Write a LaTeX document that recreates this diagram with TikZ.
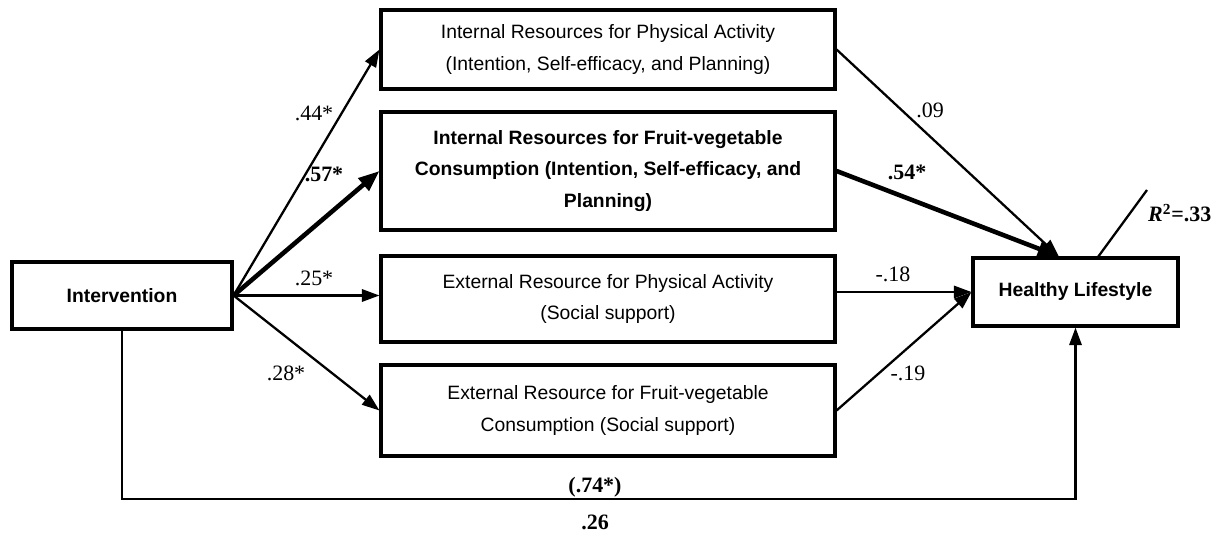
\documentclass[tikz,border=0pt]{standalone}
\usepackage{fontspec}
\setmainfont{Liberation Serif}
\setsansfont{Liberation Sans}
\usetikzlibrary{arrows.meta,calc}

\begin{document}
\begin{tikzpicture}[x=0.02cm, y=-0.02cm, >={Triangle[length=10pt,width=7pt]},
  box/.style={draw, line width=1.8pt, align=center, inner sep=0pt,
    font=\sffamily\fontsize{11pt}{18pt}\selectfont},
  boldbox/.style={box, font=\sffamily\bfseries\fontsize{11pt}{18pt}\selectfont},
  link/.style={->, line width=1.3pt},
  strong/.style={-{Triangle[length=12pt,width=9pt]}, line width=2.6pt},
  coef/.style={font=\fontsize{12.5pt}{14pt}\selectfont},
  boldcoef/.style={font=\bfseries\fontsize{12.5pt}{14pt}\selectfont}]
  \useasboundingbox (0,0) rectangle (1219,533);

  % Boxes
  \node[boldbox, minimum width=4.4cm, minimum height=1.34cm] (int) at (122,295.5) {Intervention};
  \node[box, minimum width=9.08cm, minimum height=1.58cm] (irpa) at (608,49.5)
    {Internal Resources for Physical Activity\\(Intention, Self-efficacy, and Planning)};
  \node[boldbox, minimum width=9.08cm, minimum height=2.36cm] (irfv) at (608,171)
    {Internal Resources for Fruit-vegetable\\Consumption (Intention, Self-efficacy, and\\Planning)};
  \node[box, minimum width=9.08cm, minimum height=1.72cm] (erpa) at (608,299)
    {External Resource for Physical Activity\\(Social support)};
  \node[box, minimum width=9.08cm, minimum height=1.82cm] (erfv) at (608,410.5)
    {External Resource for Fruit-vegetable\\Consumption (Social support)};
  \node[boldbox, minimum width=4.1cm, minimum height=1.36cm] (hl) at (1075.5,292) {Healthy Lifestyle};

  % Helper points
  \coordinate (hltop) at ($(hl.north west)!0.42!(hl.north east)$);
  \coordinate (rfoot) at ($(hl.north west)!0.61!(hl.north east)$);
  \coordinate (rtop) at (1147,190);
  \coordinate (base) at (0,499);

  % Paths from intervention
  \draw[link] (int.east) -- (irpa.west);
  \draw[strong] (int.east) -- (irfv.west);
  \draw[link] (int.east) -- (int.east -| erpa.west);
  \draw[link] (int.east) -- (erfv.west);

  % Paths to lifestyle
  \draw[link] (irpa.east) -- (hltop);
  \draw[strong] (irfv.east) -- (hltop);
  \draw[link] (erpa.east |- hl.west) -- (hl.west);
  \draw[link] (erfv.east) -- (hl.west);
  \draw[line width=1.3pt] (rfoot) -- (rtop);

  % Direct effect
  \draw[link] (int.south) -- (int.south |- base) -| (hl.south);

  % Coefficients
  \node[coef] (c44) at (314,113) {.44*};
  \node[boldcoef] (c57) at (324,174) {.57*};
  \node[coef] (c25) at (314,278) {.25*};
  \node[coef] (c28) at (286,373) {.28*};
  \node[coef] (c09) at (930,110) {.09};
  \node[boldcoef] (c54) at (907,172) {.54*};
  \node[coef] (c18) at (893,274) {-.18};
  \node[coef] (c19) at (908,373) {-.19};
  \node[boldcoef] (c74) at (595,487) {(.74*)};
  \node[boldcoef] (c26) at (595,522) {.26};
  \node[boldcoef, anchor=west] (r2) at (1142,213) {\textit{R}\textsuperscript{2}=.33};
\end{tikzpicture}
\end{document}
